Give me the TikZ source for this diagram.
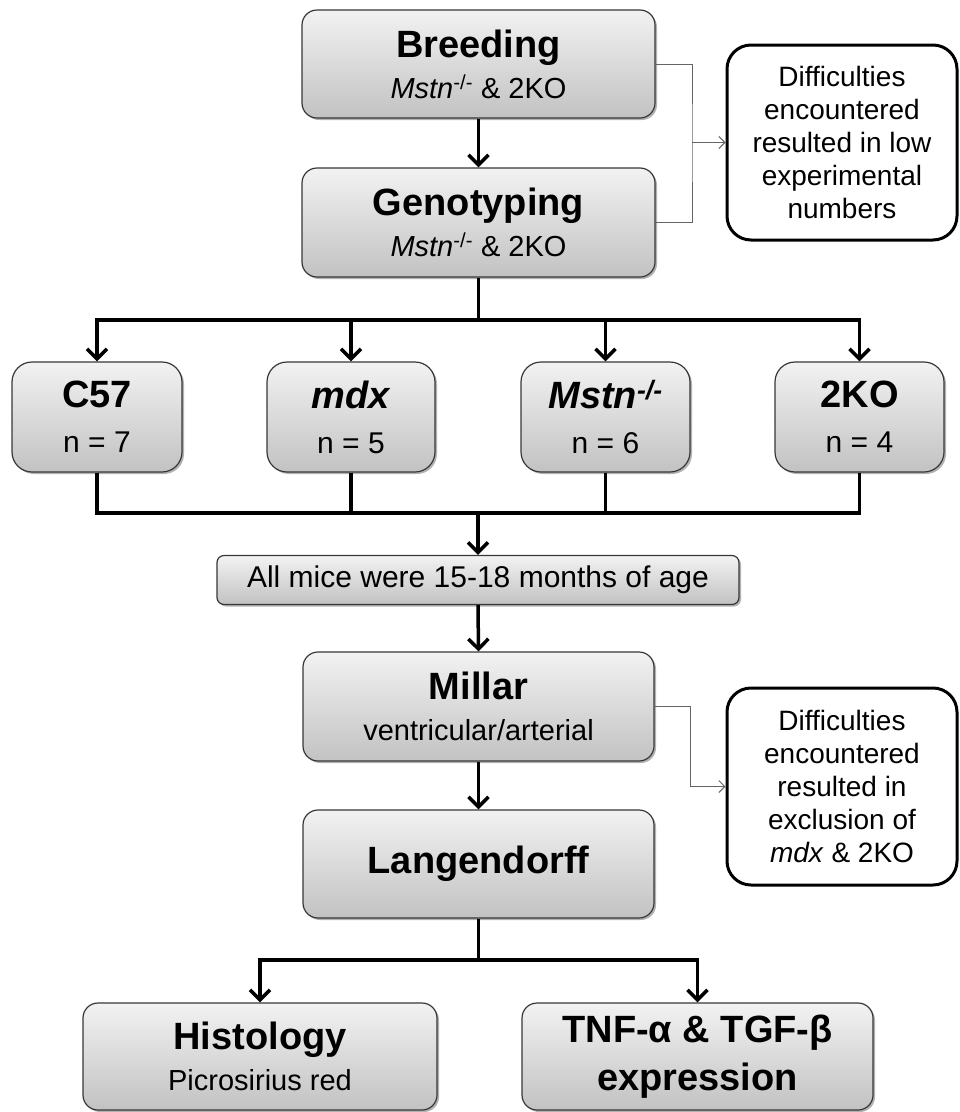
\documentclass[tikz,border=0pt]{standalone}
\usepackage{fontspec}
\setmainfont{Liberation Sans}
\usetikzlibrary{arrows.meta,shadows,calc}
\definecolor{boxtop}{RGB}{242,242,242}
\definecolor{boxbot}{RGB}{194,194,194}
\definecolor{boxedge}{RGB}{55,55,55}
\definecolor{thingray}{RGB}{100,100,100}
\tikzset{
  gbox/.style={rectangle, rounded corners=15pt, draw=boxedge, line width=1.2pt,
    top color=boxtop, bottom color=boxbot, align=center, inner sep=0pt,
    drop shadow={shadow xshift=2pt, shadow yshift=-2pt, opacity=0.3, fill=black},
    font=\fontsize{29}{41}\selectfont},
  sidebox/.style={rectangle, rounded corners=24pt, draw=black, line width=3pt,
    fill=white, align=center, inner sep=0pt, font=\fontsize{28}{33}\selectfont},
  flow/.style={line width=3.5pt, draw=black},
  flowarr/.style={flow, -{Straight Barb[length=10pt,width=20pt,line width=3.5pt]}},
  thinline/.style={line width=1pt, draw=thingray},
  thinarr/.style={thinline, -{Straight Barb[length=6pt,width=12pt,line width=1pt]}},
}
\newcommand{\ttl}[1]{{\fontsize{38}{41}\selectfont\bfseries #1}}
\begin{document}
\begin{tikzpicture}[x=1pt,y=-1pt]
\useasboundingbox (0,0) rectangle (960,1112);
% main column
\node[gbox, minimum width=353pt, minimum height=108pt] (breed) at (478.5,64) {\ttl{Breeding}\\\textit{Mstn}\textsuperscript{-/-} \& 2KO};
\node[gbox, minimum width=353pt, minimum height=109pt] (geno) at (478.5,222.5) {\ttl{Genotyping}\\\textit{Mstn}\textsuperscript{-/-} \& 2KO};
\node[sidebox, minimum width=230pt, minimum height=195pt] (side1) at (842,142.5) {Difficulties\\encountered\\resulted in low\\experimental\\numbers};
% groups
\node[gbox, rounded corners=20pt, minimum width=170pt, minimum height=110pt, font=\fontsize{30}{45}\selectfont] (c57) at (97,417) {\ttl{C57}\\n = 7};
\node[gbox, rounded corners=20pt, minimum width=168pt, minimum height=110pt, font=\fontsize{30}{45}\selectfont] (mdx) at (351,417) {\ttl{\itshape mdx}\\n = 5};
\node[gbox, rounded corners=20pt, minimum width=169pt, minimum height=110pt, font=\fontsize{30}{45}\selectfont] (mstn) at (605.5,417) {\ttl{\itshape Mstn\textsuperscript{-/-}}\\n = 6};
\node[gbox, rounded corners=20pt, minimum width=169pt, minimum height=110pt, font=\fontsize{30}{45}\selectfont] (ko) at (859.5,417) {\ttl{2KO}\\n = 4};
\node[gbox, rounded corners=7pt, minimum width=522pt, minimum height=49pt, font=\fontsize{30}{34}\selectfont] (age) at (478,580) {All mice were 15-18 months of age};
\node[gbox, minimum width=351pt, minimum height=109pt] (millar) at (478.5,706.5) {\ttl{Millar}\\ventricular/arterial};
\node[gbox, minimum width=351pt, minimum height=108pt] (lang) at (478.5,864) {\ttl{Langendorff}};
\node[sidebox, minimum width=230pt, minimum height=197pt] (side2) at (842,786.5) {Difficulties\\encountered\\resulted in\\exclusion of\\\textit{mdx} \& 2KO};
\node[gbox, minimum width=354pt, minimum height=107pt] (hist) at (260,1056.5) {\ttl{Histology}\\Picrosirius red};
\node[gbox, minimum width=351pt, minimum height=107pt, font=\fontsize{38}{48}\selectfont\bfseries] (tnf) at (697.5,1056.5) {TNF-α \& TGF-β\\expression};
% connectors
\draw[flowarr] (breed.south) -- (geno.north);
\coordinate (b1) at (478.5,320);
\draw[flow] (geno.south) -- (b1);
\draw[flowarr] (b1) -| (c57.north);
\draw[flowarr] (b1) -| (mdx.north);
\draw[flowarr] (b1) -| (mstn.north);
\draw[flowarr] (b1) -| (ko.north);
\coordinate (m2) at (478,513);
\draw[flow] (c57.south) |- (m2);
\draw[flow] (ko.south) |- (m2);
\draw[flow] (mdx.south) -- (mdx.south |- m2);
\draw[flow] (mstn.south) -- (mstn.south |- m2);
\draw[flowarr] (m2) -- (age.north);
\draw[flowarr] (age.south) -- (millar.north);
\draw[flowarr] (millar.south) -- (lang.north);
\coordinate (b3) at (478.5,960);
\draw[flow] (lang.south) -- (b3);
\draw[flowarr] (b3) -| (hist.north);
\draw[flowarr] (b3) -| (tnf.north);
% side connectors
\coordinate (j1) at (692,142.5);
\draw[thinline] (breed.east) -| (j1) |- (geno.east);
\draw[thinarr] (j1) -- (side1.west);
\coordinate (j2) at (690,786.5);
\draw[thinarr] (millar.east) -| (j2) -- (side2.west);
\end{tikzpicture}
\end{document}
